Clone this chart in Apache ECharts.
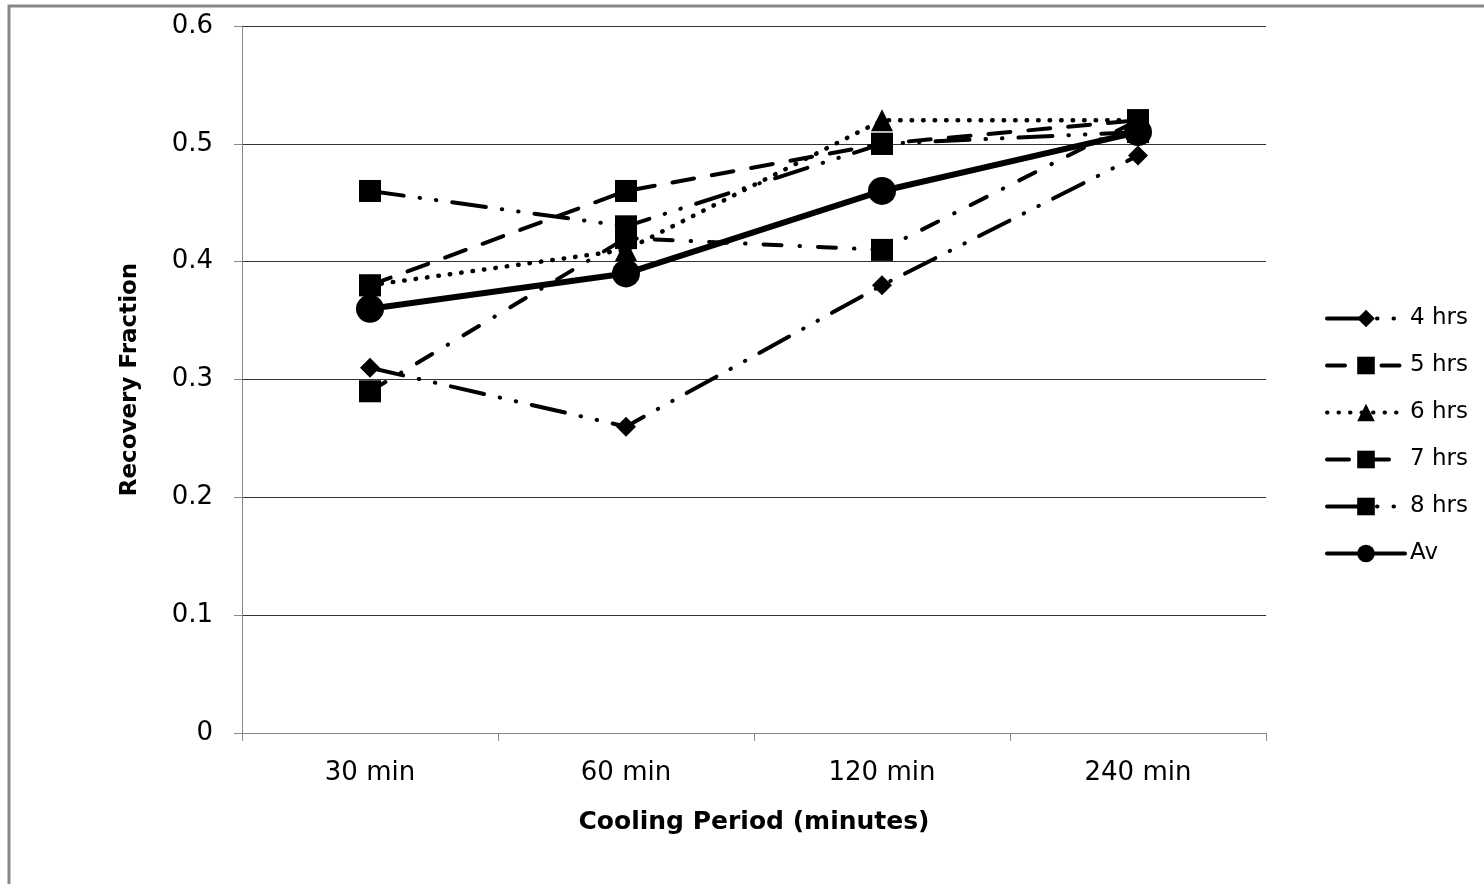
<!DOCTYPE html>
<html>
<head>
<meta charset="utf-8">
<script src="https://cdn.jsdelivr.net/npm/echarts@6/dist/echarts.min.js"></script>
<style>
  html, body { margin: 0; padding: 0; background: #fff; }
  #chart { width: 1484px; height: 884px; }
</style>
</head>
<body>
<div id="chart"></div>
<script>
  // cooling periods on the x axis
  var categories = ['30 min', '60 min', '120 min', '240 min'];
  // recovery fraction per heating time
  var hrs4 = [0.31, 0.26, 0.38, 0.49];
  var hrs5 = [0.29, 0.42, 0.41, 0.52];
  var hrs6 = [0.38, 0.41, 0.52, 0.52];
  var hrs7 = [0.38, 0.46, 0.50, 0.52];
  var hrs8 = [0.46, 0.43, 0.50, 0.51];
  var av = [0.36, 0.39, 0.46, 0.51];

  var font = '"DejaVu Sans", Verdana, sans-serif';

  function line(name, data, symbol, size, width, dash) {
    return {
      name: name,
      type: 'line',
      data: data,
      symbol: symbol,
      symbolSize: size,
      showSymbol: true,
      itemStyle: { color: '#000' },
      lineStyle: { color: '#000', width: width, type: dash, cap: 'round' },
      emphasis: { disabled: true },
      animation: false
    };
  }

  var chart = echarts.init(document.getElementById('chart'));
  chart.setOption({
    backgroundColor: '#fff',
    textStyle: { fontFamily: font, color: '#000' },
    graphic: [{
      type: 'rect',
      shape: { x: 9, y: 6, width: 1500, height: 900 },
      style: { fill: 'none', stroke: '#888', lineWidth: 3 },
      silent: true
    }],
    grid: { left: 242, right: 218, top: 26, bottom: 151 },
    legend: {
      orient: 'vertical',
      left: 1320,
      top: 302,
      itemWidth: 78,
      itemHeight: 22,
      itemGap: 24,
      lineStyle: { width: 4 },
      textStyle: { fontFamily: font, fontSize: 23, color: '#000' },
      data: ['4 hrs', '5 hrs', '6 hrs', '7 hrs', '8 hrs', 'Av']
    },
    xAxis: {
      type: 'category',
      data: categories,
      boundaryGap: true,
      name: 'Cooling Period (minutes)',
      nameLocation: 'middle',
      nameGap: 77,
      nameTextStyle: { fontFamily: font, fontSize: 25, fontWeight: 'bold', color: '#000' },
      axisLine: { lineStyle: { color: '#888', width: 1 } },
      axisTick: { show: true, inside: false, length: 8, alignWithLabel: false, lineStyle: { color: '#888' } },
      axisLabel: { fontFamily: font, fontSize: 26, color: '#000', margin: 27 },
      splitLine: { show: false }
    },
    yAxis: {
      type: 'value',
      min: 0,
      max: 0.6,
      interval: 0.1,
      name: 'Recovery Fraction',
      nameLocation: 'middle',
      nameGap: 100,
      nameRotate: 90,
      nameTextStyle: { fontFamily: font, fontSize: 23, fontWeight: 'bold', color: '#000' },
      axisLine: { show: true, lineStyle: { color: '#888', width: 1 } },
      axisTick: { show: true, inside: false, length: 8, lineStyle: { color: '#888' } },
      axisLabel: {
        fontFamily: font, fontSize: 26, color: '#000', margin: 29,
        formatter: function (v) { return +v.toFixed(1) + ''; }
      },
      splitLine: { show: true, lineStyle: { color: '#333', width: 1 } }
    },
    series: [
      line('4 hrs', hrs4, 'diamond', 20, 4, [34, 16, 0.5, 16, 0.5, 16]),
      line('5 hrs', hrs5, 'rect', 22, 4, [18, 18, 0.5, 18]),
      line('6 hrs', hrs6, 'triangle', 22, 4.5, [0.5, 11]),
      line('7 hrs', hrs7, 'rect', 22, 4, [22, 18]),
      line('8 hrs', hrs8, 'rect', 22, 4, [34, 16, 0.5, 16, 0.5, 16]),
      line('Av', av, 'circle', 28, 6, 'solid')
    ]
  });
</script>
</body>
</html>
